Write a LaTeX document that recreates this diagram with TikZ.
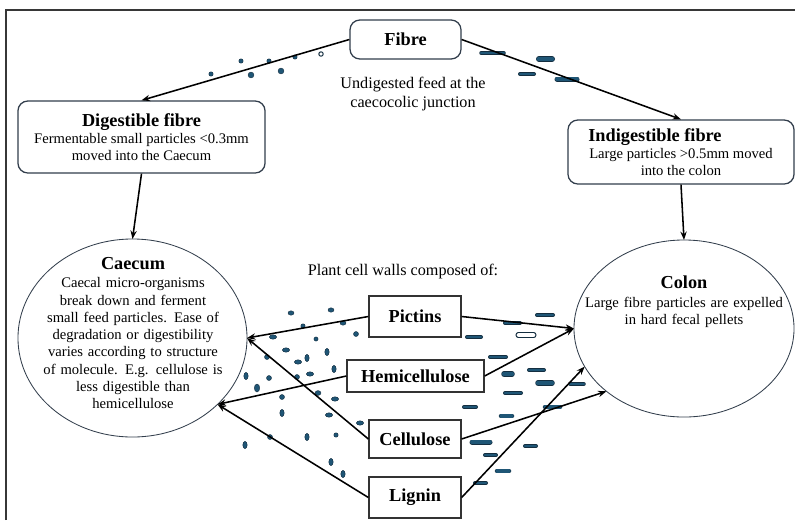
\documentclass[tikz,border=0pt]{standalone}
\usepackage{fontspec}
\setmainfont{Liberation Serif}
\usetikzlibrary{arrows.meta,shapes.geometric}

\definecolor{particle}{RGB}{31,86,118}
\definecolor{particleedge}{RGB}{20,46,64}
\definecolor{framegray}{RGB}{55,55,55}
\definecolor{ovalline}{RGB}{50,62,76}

\newcommand{\fibrehead}{\fontsize{13}{15}\selectfont\bfseries}
\newcommand{\fibrebody}{\fontsize{10.4}{12.3}\selectfont}
\newcommand{\fibreplain}{\fontsize{11.5}{13.5}\selectfont}

\tikzset{
  roundbox/.style={draw=ovalline, line width=0.9pt, rounded corners=7pt, align=center, inner sep=2pt, fill=white, font=\fibrebody},
  wallbox/.style={draw=black!80, line width=0.9pt, inner sep=2pt, fill=white, font=\fibrehead},
  organ/.style={ellipse, draw=ovalline, line width=0.6pt, inner sep=0pt, outer sep=0pt},
  organtext/.style={align=center, font=\fibrebody, inner sep=0pt},
  flow/.style={line width=1.1pt, -{Stealth[length=6pt,width=4.5pt]}},
  dot/.style={fill=particle, draw=particleedge, line width=0.3pt},
}

\begin{document}
\begin{tikzpicture}[x=0.025cm, y=-0.025cm]
\useasboundingbox (0,0) rectangle (795,520);

% Frame, only the left and top edges show
\draw[framegray, line width=1.1pt] (6,520) -- (6,10) -- (795,10);

% Small particles on the way to the Caecum
\foreach \x/\y/\r in {211/74/2.2, 241/61/2.2, 251/75/2.9, 269/61/2.2, 281/71/2.9, 295/57/2.2}
  \filldraw[dot] (\x,\y) circle (\r);
\filldraw[fill=white, draw=particleedge, line width=0.7pt] (321,54) circle (2.2);

\foreach \x/\y/\a/\b in {291/313/3/2.2, 331/310/3/2.2, 303/326/2.2/2.2, 343/323/3/2.2,
    356/334/2.5/2.5, 273/337/3.6/2.2, 316/339/2.1/2.1, 286/350/3.6/2.2, 327/352/2.2/3.6,
    267/357/2.5/2.5, 298/362/3.6/2.2, 307/358/2.2/3.6, 334/369/2.2/3.6, 310/374/3.6/2.2,
    246/376/2.2/3.6, 269/378/2.5/2.5, 297/377/2.5/2.5, 257/388/2.7/4, 282/397/2.5/2.5,
    318/393/3/2.4, 335/399/3.6/2.2, 282/413/2.2/3.6, 329/415/3.6/2.2, 360/423/3.6/2.2,
    270/437/2.5/2.5, 307/437/2.2/3.6, 336/435/2.2/2.2, 245/445/2.2/3.6, 331/462/2.2/3.6,
    343/474/2.2/3.6}
  \filldraw[dot] (\x,\y) ellipse [x radius=\a, y radius=\b];

% Large particles on the way to the colon
\foreach \xa/\xb/\y/\t in {479/506/53/3.5, 537/554/59/6, 518/536/74/4, 555/579/79/5,
    535/555/315/4, 503/522/323/4, 465/483/337/4, 488/508/357/4, 527/546/370/4,
    502/514/374/5.5, 536/554/383/5.5, 568/586/384/3.5, 503/523/393/4, 462/478/407/4,
    543/562/407/4.5, 499/514/416/4.5, 470/492/442/5, 523/538/446/4, 483/498/455/4,
    495/511/471/4.5, 473/488/483/4}
{
  \draw[line cap=round, particleedge, line width=\t*0.025cm] (\xa+2,\y) -- (\xb-2,\y);
  \draw[line cap=round, particle, line width=\t*0.025cm-0.8pt] (\xa+2,\y) -- (\xb-2,\y);
}
\filldraw[fill=white, draw=particleedge, line width=0.7pt, rounded corners=1.7pt] (516,332.5) rectangle (536,337.5);

% Fibre and where it goes
\node[roundbox, minimum width=2.775cm, minimum height=0.975cm] (fibre) at (405.5,39.5) {\fibrehead Fibre};
\node[align=center, font=\fibreplain] (junction) at (413,94) {Undigested feed at the\\caecocolic junction};
\node[roundbox, minimum width=6.175cm, minimum height=1.8cm] (digestible) at (141.5,137)
  {{\fibrehead Digestible fibre}\\ Fermentable small particles <0.3mm\\ moved into the Caecum};
\node[roundbox, minimum width=5.65cm, minimum height=1.6cm] (indigestible) at (681,152)
  {{\fibrehead Indigestible fibre}\rule{37pt}{0pt}\\ Large particles >0.5mm moved\\ into the colon};

% Caecum and colon
\node[organ, minimum width=5.725cm, minimum height=4.95cm] (caecum) at (132.5,338) {};
\node[organtext, text width=5.2cm] (caecumtext) at (133,333)
  {{\fibrehead Caecum}\\[1pt] Caecal micro-organisms\\ break down and ferment\\ small feed particles. Ease of\\
   degradation or digestibility\\ varies according to structure\\ of molecule. E.g. cellulose is\\
   less digestible than\\ hemicellulose};
\node[organ, minimum width=5.5cm, minimum height=4.425cm] (colon) at (684,328.5) {};
\node[organtext, text width=5.2cm] (colontext) at (684,302)
  {{\fibrehead Colon}\\[1pt] Large fibre particles are expelled\\ in hard fecal pellets};

% Plant cell walls
\node[font=\fibreplain] (walls) at (403,272) {Plant cell walls composed of:};
\node[wallbox, minimum width=2.3cm, minimum height=1.025cm] (pictins) at (415,316.5) {Pictins};
\node[wallbox, minimum width=3.425cm, minimum height=0.8cm] (hemi) at (415.5,376) {Hemicellulose};
\node[wallbox, minimum width=2.3cm, minimum height=0.95cm] (cellulose) at (415,439) {Cellulose};
\node[wallbox, minimum width=2.3cm, minimum height=1.025cm] (lignin) at (415,497.5) {Lignin};

% Arrows
\draw[flow] (fibre.west) -- (digestible.north);
\draw[flow] (fibre.east) -- (indigestible.north);
\draw[flow] (digestible.south) -- (caecum.north);
\draw[flow] (indigestible.south) -- (colon.north);
\draw[flow] (pictins.west) -- (caecum.east);
\draw[flow] (hemi.west) -- (caecum.-38);
\draw[flow] (cellulose.west) -- (caecum.east);
\draw[flow] (lignin.west) -- (caecum.-38);
\draw[flow] (pictins.east) -- (colon.west);
\draw[flow] (hemi.east) -- (colon.west);
\draw[flow] (cellulose.east) -- (colon.219);
\draw[flow] (lignin.east) -- (colon.201);

\end{tikzpicture}
\end{document}
